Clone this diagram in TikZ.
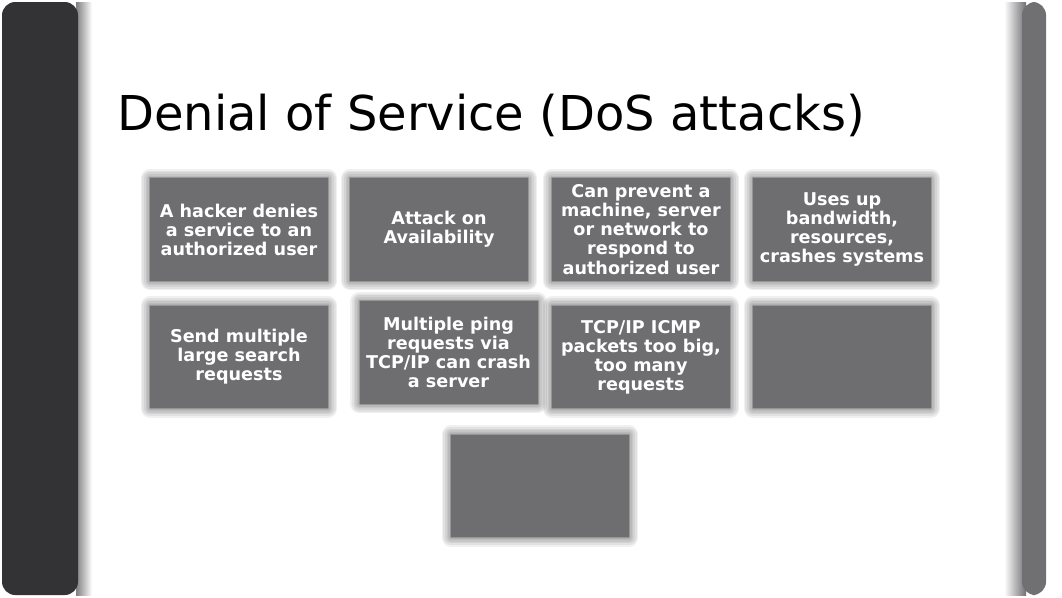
\documentclass[tikz,border=0pt]{standalone}
\usepackage{fontspec}
\setmainfont{DejaVu Sans}
\definecolor{boxgray}{HTML}{6E6E70}
\definecolor{bargray}{HTML}{333335}
\definecolor{edgegray}{HTML}{707073}

\begin{document}
\begin{tikzpicture}[x=0.75pt, y=-0.75pt,
    halo/.style={preaction={draw=black, draw opacity=0.06, line join=round, line width=#1}},
    box/.style={rectangle, fill=boxgray, minimum width=133.5pt, minimum height=77pt,
        inner sep=0pt, align=center, text=white, font=\bfseries\fontsize{13.2}{14.3}\selectfont,
        halo=14pt, halo=11.5pt, halo=9pt, halo=6.5pt, halo=4pt, halo=2pt,
        preaction={draw=boxgray, draw opacity=0.4, line join=round, line width=1.5pt}}]
    \useasboundingbox (0,0) rectangle (1062,597);
    \fill[white] (0,0) rectangle (1062,597);
    % side bars
    \shade[left color=black!50, right color=white] (76,2) rectangle (92,595);
    \fill[bargray, rounded corners=10pt] (2,2) rectangle (78,595);
    \shade[left color=white, right color=edgegray] (1004,2) rectangle (1026,595);
    \fill[edgegray, rounded corners=10pt] (1022,2) rectangle (1046,595);
    \node[anchor=base west, inner sep=0pt, font=\fontsize{36}{43}\selectfont] (title) at (117,130) {Denial of Service (DoS attacks)};
    % first row
    \node[box] (deny) at (239,229.5) {A hacker denies\\a service to an\\authorized user};
    \node[box] (avail) at (439,229.5) {Attack on\\Availability};
    \node[box] (prevent) at (641,229.5) {Can prevent a\\machine, server\\or network to\\respond to\\authorized user};
    \node[box] (usesup) at (842,229.5) {Uses up\\bandwidth,\\resources,\\crashes systems};
    % second row
    \node[box] (search) at (239,357) {Send multiple\\large search\\requests};
    \node[box] (ping) at (448.5,352.5) {Multiple ping\\requests via\\TCP/IP can crash\\a server};
    \node[box] (icmp) at (641,357) {TCP/IP ICMP\\packets too big,\\too many\\requests};
    \node[box] (blank1) at (842,357) {};
    % third row
    \node[box] (blank2) at (540,486) {};
\end{tikzpicture}
\end{document}
